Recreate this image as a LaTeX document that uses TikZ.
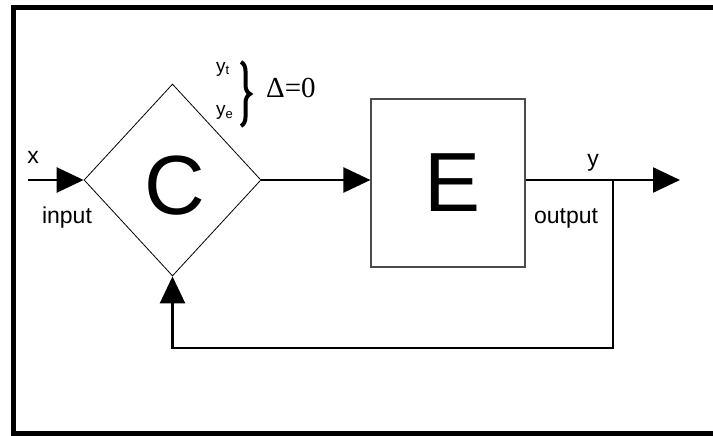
\documentclass[tikz,border=0pt]{standalone}
\usepackage{fontspec}
\setmainfont{Liberation Sans}
\newfontfamily\seriffont{Liberation Serif}
\usetikzlibrary{arrows.meta,decorations.pathreplacing,shapes.geometric}
\begin{document}
\begin{tikzpicture}[x=1pt,y=-1pt,
  flow/.style={line width=2.5pt},
  tipped/.style={-{Triangle[length=27pt,width=25pt]}},
  lbl/.style={font=\fontsize{23}{23}\selectfont, inner sep=0pt},
  smalllbl/.style={font=\fontsize{19}{19}\selectfont, inner sep=0pt},
  big/.style={font=\fontsize{84}{84}\selectfont, inner sep=0pt}]
\useasboundingbox (0,0) rectangle (713,436);
\draw[line width=5pt, line join=miter] (713,7.5) -- (13.5,7.5) -- (13.5,433) -- (713,433);
% blocks
\node[diamond, draw, line width=0.8pt, minimum width=177pt, minimum height=192pt, inner sep=0pt] (D) at (172.5,180) {};
\node[big] (C) at (175,186) {C};
\node[rectangle, draw=black!70, line width=1.2pt, minimum width=154pt, minimum height=168pt, inner sep=0pt] (E) at (448,183) {};
\node[big] (El) at (453,183) {E};
% coordinates
\coordinate (xin) at (28,180);
\coordinate (yout) at (680,180);
\coordinate (branch) at (613,180);
\coordinate (fb) at (613,348);
% connectors
\draw[flow,tipped] (xin) -- (D.west);
\draw[flow,tipped] (D.east) -- (D.east -| E.west);
\draw[flow] (E.east |- D.east) -- (branch);
\draw[flow,tipped] (branch) -- (yout);
\draw[flow,tipped] (branch) -- (fb) -| (D.south);
% labels
\node[lbl, anchor=base] (xl) at (33,163) {x};
\node[lbl, anchor=base] (inl) at (67,223) {input};
\node[lbl, anchor=base] (yl) at (593,166) {y};
\node[lbl, anchor=base] (outl) at (566,223) {output};
\node[smalllbl, anchor=base west] (yt) at (216,73) {y\raisebox{-2pt}{\fontsize{13}{13}\selectfont t}};
\node[smalllbl, anchor=base west] (ye) at (216,116) {y\raisebox{-2pt}{\fontsize{13}{13}\selectfont e}};
\coordinate (bt) at (241,62);
\coordinate (bb) at (241,126);
\draw[decorate, decoration={brace, amplitude=9pt}, line width=4pt] (bt) -- (bb);
\node[font=\seriffont\fontsize{29}{29}\selectfont, inner sep=0pt, anchor=base west] (delta) at (266,98) {Δ=0};
\end{tikzpicture}
\end{document}
